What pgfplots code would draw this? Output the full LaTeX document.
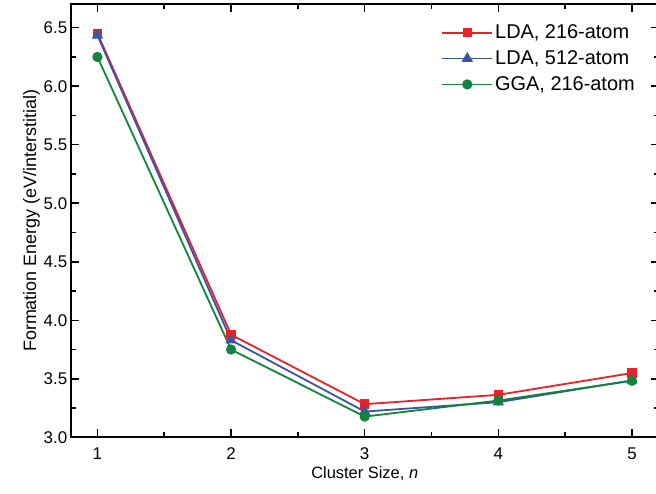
\documentclass[border=0pt]{standalone}
\usepackage{fontspec}
\setmainfont{Liberation Sans}
\usepackage{pgfplots}
\pgfplotsset{compat=1.18}
\definecolor{ldared}{RGB}{236,32,39}
\definecolor{ldablue}{RGB}{58,84,166}
\definecolor{ggagreen}{RGB}{18,132,62}

\begin{document}
\begin{tikzpicture}
\begin{axis}[
    at={(0,0)}, anchor=south west,
    scale only axis,
    width=588bp, height=433bp,
    xmin=0.8, xmax=5.2,
    ymin=3.0, ymax=6.7,
    xtick={1,2,3,4,5},
    ytick={3,3.5,4,4.5,5,5.5,6,6.5},
    minor x tick num=1, minor y tick num=1,
    tick align=inside,
    major tick length=8bp, minor tick length=5bp,
    axis line style={line width=2bp},
    every tick/.style={black, line width=1.5bp},
    /pgf/number format/assume math mode=true,
    yticklabel style={/pgf/number format/.cd, fixed, fixed zerofill, precision=1},
    tick label style={font=\fontsize{17}{20}\selectfont},
    xticklabel style={yshift=-7bp},
    xlabel={Cluster Size, \textit{n}},
    ylabel={Formation Energy (eV/interstitial)},
    xlabel style={font=\fontsize{16.5}{19}\selectfont, yshift=0bp},
    ylabel style={font=\fontsize{18}{21}\selectfont, yshift=-3bp},
    legend style={draw=none, fill=none, at={(0.625,0.962)}, anchor=north west,
        font=\fontsize{20}{23}\selectfont, row sep=6.5bp},
    legend cell align=left,
    legend image code/.code={
        \draw[mark repeat=2, mark phase=2]
        plot coordinates {(0bp,0bp) (25bp,0bp) (50bp,0bp)};
    },
]
\addplot[ldared, line width=1.8bp, mark=square*, mark size=3.8bp] coordinates {
    (1,6.452) (2,3.877) (3,3.283) (4,3.363) (5,3.549)
};
\addlegendentry{LDA, 216-atom}
\addplot[ldablue, line width=1.8bp, mark=triangle*, mark size=4.8bp] coordinates {
    (1,6.435) (2,3.830) (3,3.220) (4,3.300) (5,3.486)
};
\addlegendentry{LDA, 512-atom}
\addplot[ggagreen, line width=1.8bp, mark=*, mark size=4.2bp] coordinates {
    (1,6.250) (2,3.750) (3,3.177) (4,3.314) (5,3.483)
};
\addlegendentry{GGA, 216-atom}
\end{axis}
\pgfresetboundingbox
\path[use as bounding box] (-70.7bp,-56bp) rectangle (585.3bp,437.3bp);
\end{tikzpicture}
\end{document}
